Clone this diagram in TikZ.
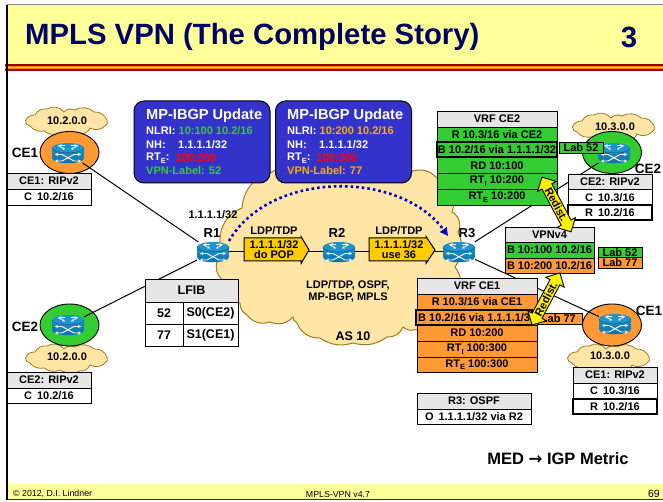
\documentclass[tikz,border=0pt]{standalone}
\usepackage{fontspec}
\setmainfont{Liberation Sans}
\newfontfamily\arrowfont{DejaVu Sans}
\usetikzlibrary{arrows.meta,shapes.arrows,shapes.geometric}
\definecolor{hdr}{HTML}{FFFF99}
\definecolor{navy}{HTML}{000066}
\definecolor{cloudfill}{HTML}{FFE6A6}
\definecolor{cloudline}{HTML}{A07A20}
\definecolor{grn}{HTML}{33CC33}
\definecolor{org}{HTML}{FF9933}
\definecolor{amber}{HTML}{FFAA00}
\definecolor{gold}{HTML}{FFCC00}
\definecolor{headgrey}{HTML}{E6E6E6}
\definecolor{bluebox}{HTML}{3333CC}
\definecolor{rtop}{HTML}{1F93CC}
\definecolor{rbot}{HTML}{0B6C9E}
\definecolor{dotblue}{HTML}{0000CC}
\newcommand{\fs}[1]{\fontsize{#1}{#1}\selectfont\bfseries}
\newcommand{\sbs}[1]{\raisebox{-2.5pt}{\fontsize{7.5}{7.5}\selectfont #1}}
\newcommand{\tcell}[8][]{%
  \pgfmathsetmacro{\cw}{#5-#3}\pgfmathsetmacro{\ch}{#6-#4}%
  \pgfmathsetmacro{\cx}{(#5+#3)/2}\pgfmathsetmacro{\cy}{(#6+#4)/2}%
  \node[cellbox,fill=#7,minimum width=\cw pt,minimum height=\ch pt,#1] (#2) at (\cx,\cy) {#8};}
\tikzset{
  cellbox/.style={draw=black,line width=.9pt,rectangle,inner sep=0pt,outer sep=0pt,font=\fs{11},text=black,align=center},
  thickrow/.style={line width=2pt},
  lbl/.style={inner sep=0pt,font=\fs{11},text=black,align=center},
  big/.style={inner sep=0pt,font=\fs{13.5},text=black},
  link/.style={draw=black,line width=1pt},
  cebubble/.style={ellipse,draw=black,line width=.9pt,minimum width=59pt,minimum height=42pt,inner sep=0pt},
  routernode/.style={inner sep=0pt,minimum width=32pt,minimum height=20pt,outer sep=0pt},
  bgpbox/.style={rectangle,rounded corners=10pt,draw=black,line width=1pt,fill=bluebox,inner sep=0pt,minimum width=136pt,minimum height=82pt},
  bgp/.style={inner sep=0pt,anchor=west,font=\fs{11},text=white},
  redist/.style={double arrow,draw=black,line width=.9pt,fill=yellow,inner sep=0pt,minimum width=21pt,double arrow head extend=4pt,font=\fs{11},text=black},
  labelarrow/.style={draw=black,line width=1pt,fill=gold},
  smallcloud/.pic={
    \draw[fill=cloudfill,draw=cloudline,line width=.8pt]
      (-41.5,0) to[bend left=35] (-32,-6) to[bend left=35] (-20,-12) to[bend left=40] (-3,-9)
      to[bend left=35] (8,-11) to[bend left=35] (27,-9) to[bend left=35] (40,-1)
      to[bend left=50] (38,5) to[bend left=35] (23,7) to[bend left=35] (13,13)
      to[bend left=25] (-7,12) to[bend left=30] (-23,10) to[bend left=30] (-37,5)
      to[bend left=40] cycle;
  },
  routericon/.pic={
    \shade[top color=rtop,bottom color=rbot]
      (-16,-5) -- (-16,5) .. controls (-16,12) and (16,12) .. (16,5) -- (16,-5) -- cycle;
    \fill[rtop] (0,-5) ellipse [x radius=16,y radius=5];
    \draw[rbot!60!black,line width=.3pt] (-16,-5) .. controls (-16,1.5) and (16,1.5) .. (16,-5);
    \draw[white,line width=.7pt,-{Stealth[length=2.5pt,width=2.5pt]}] (-10,-7.5) -- (-3,-3.5);
    \draw[white,line width=.7pt,-{Stealth[length=2.5pt,width=2.5pt]}] (10,-7.5) -- (3,-3.5);
    \draw[white,line width=.7pt,-{Stealth[length=2.5pt,width=2.5pt]}] (-3,-7.5) -- (-9,-7.5);
    \draw[white,line width=.7pt,-{Stealth[length=2.5pt,width=2.5pt]}] (3,-7.5) -- (9,-7.5);
    \draw[white,line width=.9pt,{Stealth[length=3pt,width=3pt]}-{Stealth[length=3pt,width=3pt]}] (-13,1.5) -- (-6,1.5) -- (6,8) -- (13,8);
    \draw[white,line width=.9pt,{Stealth[length=3pt,width=3pt]}-{Stealth[length=3pt,width=3pt]}] (-13,8) -- (-6,8) -- (6,1.5) -- (13,1.5);
  }
}
\begin{document}
\begin{tikzpicture}[x=1pt,y=-1pt]
\useasboundingbox (0,0) rectangle (663,502);
\fill[white] (0,0) rectangle (663,502);
% header
\fill[hdr] (7,5) rectangle (663,65);
\draw[black!45,line width=1pt] (7,4.5) -- (663,4.5);
\fill[red!65!black] (5,64.5) rectangle (663,71);
\fill[orange] (5,66) rectangle (663,69.5);
\fill[yellow] (5,67.2) rectangle (663,68.3);
\node[inner sep=0pt,anchor=west,font=\fs{29.3},text=navy] (title) at (25,37) {MPLS VPN (The Complete Story)};
\node[inner sep=0pt,font=\fs{29.3},text=navy] (num) at (629,37) {3};
% footer
\fill[hdr] (7,484) rectangle (663,499);
\draw[black!80,line width=1pt] (7,499.5) -- (663,499.5);
\draw[black,line width=1.2pt] (7,5) -- (7,500);
\node[inner sep=0pt,anchor=west,font=\fontsize{8.8}{9}\selectfont] (f1) at (13,494) {© 2012, D.I. Lindner};
\node[inner sep=0pt,font=\fontsize{8.8}{9}\selectfont] (f2) at (338,494) {MPLS-VPN v4.7};
\node[inner sep=0pt,anchor=east,font=\fontsize{10.5}{11}\selectfont] (f3) at (660,494) {69};
% big cloud
\draw[fill=cloudfill,draw=cloudline,line width=1pt]
  (217,262) to[bend left=40] (220,242) to[bend left=35] (242,208) to[bend left=35] (272,172)
  to[bend left=25] (345,160) to[bend left=25] (410,172) to[bend left=35] (437,178)
  to[bend left=45] (452,212) to[bend left=45] (458,232) to[bend left=30] (455,267)
  to[bend left=35] (456,300) to[bend left=35] (413,330) to[bend left=25] (403,327)
  to[bend left=35] (387,337) to[bend left=25] (353,343) to[bend left=25] (320,338)
  to[bend left=35] (297,323) to[bend left=30] (293,317) to[bend left=35] (270,322)
  to[bend left=35] (247,315) to[bend left=30] (240,303) to[bend left=35] (223,280)
  to[bend left=35] cycle;
% CE bubbles and small clouds
\pic at (67,121) {smallcloud};
\pic at (67,358) {smallcloud};
\pic at (614,127) {smallcloud};
\pic at (609,358) {smallcloud};
\node[cebubble,fill=org] (bCE1L) at (69.5,152.5) {};
\node[cebubble,fill=grn] (bCE2L) at (69.5,325) {};
\node[cebubble,fill=grn] (bCE2R) at (612,152.5) {};
\node[cebubble,fill=org] (bCE1R) at (612,325) {};
\node[routernode] (rCE1L) at (68,153) {};
\node[routernode] (rCE2L) at (68,325) {};
\node[routernode] (rCE2R) at (614,153) {};
\node[routernode] (rCE1R) at (615,324) {};
\node[routernode] (R1) at (213,252) {};
\node[routernode] (R2) at (339,252) {};
\node[routernode] (R3) at (459,252) {};
% links
\draw[link] (rCE1L) -- (R1);
\draw[link] (rCE2L) -- (R1);
\draw[link] (R1) -- (R2);
\draw[link] (R2) -- (R3);
\draw[link] (R3) -- (rCE2R);
\draw[link] (R3) -- (rCE1R);
% routers
\foreach \r/\px/\py in {a/68/153,b/68/325,c/614/153,d/615/324,e/213/252,f/339/252,g/459/252}{
  \pic at (\px,\py) {routericon};
}
% dotted arc
\coordinate (arcS) at (229,241);
\coordinate (arcE) at (448,236);
\draw[dotblue,line width=2.6pt,dash pattern=on 2.6pt off 3pt,-{Triangle[length=8pt,width=8pt]}]
  (arcS) .. controls (270,170) and (400,170) .. (arcE);
% label arrows
\draw[labelarrow] (244,238) -- (301,238) -- (301,236.5) -- (309,250) -- (301,263.5) -- (301,261) -- (244,261) -- cycle;
\draw[labelarrow] (369,238) -- (426,238) -- (426,236.5) -- (435,250) -- (426,263.5) -- (426,261) -- (369,261) -- cycle;
\node[lbl] (la1) at (274,249.5) {1.1.1.1/32\\[-1pt]do POP};
\node[lbl] (la2) at (399,249.5) {1.1.1.1/32\\[-1pt]use 36};
\node[lbl] (ldp1) at (274,231) {LDP/TDP};
\node[lbl] (ldp2) at (399,231) {LDP/TDP};
\node[lbl,font=\fs{13}] (nR1) at (212,233) {R1};
\node[lbl,font=\fs{13}] (nR2) at (337,233) {R2};
\node[lbl,font=\fs{13}] (nR3) at (467,233) {R3};
\node[lbl] (nh) at (213,215) {1.1.1.1/32};
\node[lbl] (cloudtxt) at (348,291.5) {LDP/TDP, OSPF,\\[1.5pt]MP-BGP, MPLS};
\node[lbl,font=\fs{12.5}] (as) at (353,336) {AS 10};
% cloud labels
\node[lbl] (c1) at (67,121) {10.2.0.0};
\node[lbl] (c2) at (67,357) {10.2.0.0};
\node[lbl] (c3) at (615,127) {10.3.0.0};
\node[lbl] (c4) at (610,356) {10.3.0.0};
\node[big] (lCE1L) at (25,153) {CE1};
\node[big] (lCE2L) at (25,327) {CE2};
\node[big] (lCE2R) at (648,169) {CE2};
\node[big] (lCE1R) at (649,311) {CE1};
% left tables
\tcell{t1h}{7}{173}{91}{189}{headgrey}{CE1: RIPv2}
\tcell{t1a}{7}{189}{91}{205}{white}{C\, 10.2/16}
\tcell{t2h}{7}{372}{91}{388}{headgrey}{CE2: RIPv2}
\tcell{t2a}{7}{388}{91}{403}{white}{C\, 10.2/16}
% LFIB
\tcell[font=\fs{12.5}]{lf}{145}{279}{238}{302}{headgrey}{LFIB}
\tcell[font=\fs{12.5}]{lf1}{145}{302}{183}{324}{white}{52}
\tcell[font=\fs{12.5}]{lf2}{183}{302}{238}{324}{white}{S0(CE2)}
\tcell[font=\fs{12.5}]{lf3}{145}{324}{183}{346}{white}{77}
\tcell[font=\fs{12.5}]{lf4}{183}{324}{238}{346}{white}{S1(CE1)}
% BGP boxes
\node[bgpbox] (u1) at (202,142) {};
\node[bgpbox] (u2) at (343.5,142) {};
\node[bgp,font=\fs{14.6}] (u1t) at (146,116) {MP-IBGP Update};
\node[bgp] (u1a) at (146,131) {NLRI:};
\node[bgp,text=grn] (u1b) at (178.5,131) {10:100 10.2/16};
\node[bgp] (u1c) at (146,144.5) {NH:};
\node[bgp] (u1d) at (178,144.5) {1.1.1.1/32};
\node[bgp] (u1e) at (146,158) {RT\sbs{E}:};
\node[bgp,text=red] (u1f) at (175.5,158) {100:200};
\node[bgp,text=grn] (u1g) at (146,171) {VPN-Label: 52};
\node[bgp,font=\fs{14.6}] (u2t) at (287,116) {MP-IBGP Update};
\node[bgp] (u2a) at (287,131) {NLRI:};
\node[bgp,text=amber] (u2b) at (319.5,131) {10:200 10.2/16};
\node[bgp] (u2c) at (287,144.5) {NH:};
\node[bgp] (u2d) at (319,144.5) {1.1.1.1/32};
\node[bgp] (u2e) at (287,158) {RT\sbs{E}:};
\node[bgp,text=red] (u2f) at (316.5,158) {100:300};
\node[bgp,text=amber] (u2g) at (287,171) {VPN-Label: 77};
% VRF CE2
\tcell{v2h}{437}{111}{557}{127}{headgrey}{VRF CE2}
\tcell{v2a}{437}{127}{557}{142}{grn}{R 10.3/16 via CE2}
\tcell[thickrow]{v2b}{437}{142.5}{557}{157.5}{grn}{B 10.2/16 via 1.1.1.1/32}
\tcell{v2c}{437}{157.5}{557}{173}{grn}{RD 10:100}
\tcell{v2d}{437}{173}{557}{189}{grn}{RT\sbs{I} 10:200}
\tcell{v2e}{437}{189}{557}{205}{grn}{RT\sbs{E} 10:200}
\tcell{lab1}{559}{142}{603}{153}{grn}{Lab 52}
% right CE2 table
\tcell{t3h}{568}{174}{652}{189}{headgrey}{CE2: RIPv2}
\tcell{t3a}{568}{189}{652}{205.5}{white}{C\, 10.3/16}
\tcell[thickrow]{t3b}{568}{205.5}{652}{220.5}{white}{R\, 10.2/16}
% VPNv4
\tcell{vph}{505}{227}{594}{242}{headgrey}{VPNv4}
\tcell{vpa}{505}{242}{594}{258}{grn}{B 10:100 10.2/16}
\tcell{vpb}{505}{258}{594}{273}{org}{B 10:200 10.2/16}
\tcell{lab2}{598}{247}{642}{257.5}{grn}{Lab 52}
\tcell{lab3}{598}{257.5}{642}{268}{org}{Lab 77}
% VRF CE1
\tcell{v1h}{417}{278}{537}{294}{headgrey}{VRF CE1}
\tcell{v1a}{417}{294}{537}{310}{org}{R 10.3/16 via CE1}
\tcell{v1bg}{417}{310}{537}{325}{org}{}
\tcell[thickrow]{v1b}{416}{310}{532}{325}{org}{}
\node[lbl,anchor=west] (v1bt) at (418,317.5) {B 10.2/16 via 1.1.1.1/32};
\tcell{v1c}{417}{325}{537}{341}{org}{RD 10:200}
\tcell{v1d}{417}{341}{537}{357}{org}{RT\sbs{I} 100:300}
\tcell{v1e}{417}{357}{537}{372}{org}{RT\sbs{E} 100:300}
\tcell{lab4}{537}{313}{582}{324}{org}{}
\node[lbl,anchor=east] (lab4t) at (576,318.5) {Lab 77};
% right CE1 table
\tcell{t4h}{573}{367}{657}{383}{headgrey}{CE1: RIPv2}
\tcell{t4a}{573}{383}{657}{399}{white}{C\, 10.3/16}
\tcell[thickrow]{t4b}{573}{399}{657}{414}{white}{R\, 10.2/16}
% OSPF
\tcell{o1}{417}{393}{531}{409}{headgrey}{R3: OSPF}
\tcell{o2}{417}{409}{531}{424}{white}{O\, 1.1.1.1/32 via R2}
% redist arrows
\node[redist,minimum height=62pt,rotate=-62] (rd1) at (556.5,204.5) {Redist.};
\node[redist,minimum height=59pt,rotate=62] (rd2) at (546,299) {Redist.};
% MED
\node[inner sep=0pt,font=\fs{16.5},text=black] (med) at (558,459) {MED {\arrowfont\bfseries→} IGP Metric};
\end{tikzpicture}
\end{document}
